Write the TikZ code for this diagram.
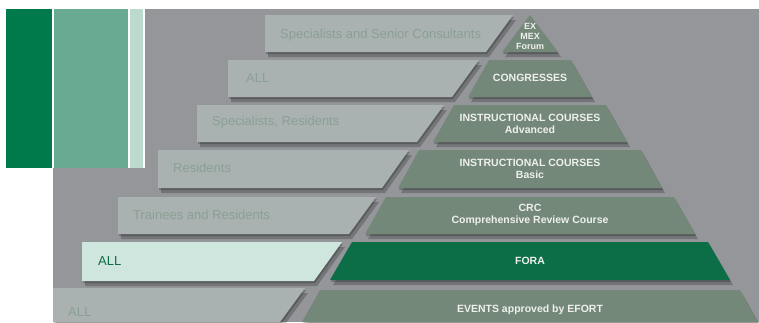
\documentclass[tikz,border=0pt]{standalone}
\usepackage{fontspec}
\setmainfont{Liberation Sans}
\definecolor{bggray}{RGB}{149,150,154}
\definecolor{dkgreen}{RGB}{0,122,75}
\definecolor{mdgreen}{RGB}{104,170,146}
\definecolor{ltgreen}{RGB}{188,218,206}
\definecolor{boxgray}{RGB}{169,178,177}
\definecolor{boxtext}{RGB}{138,160,148}
\definecolor{ltbox}{RGB}{207,230,223}
\definecolor{foratxt}{RGB}{15,107,69}
\definecolor{lvlgreen}{RGB}{116,136,122}
\definecolor{fora}{RGB}{11,110,70}
\definecolor{lvltext}{RGB}{238,240,236}
\begin{document}
\begin{tikzpicture}[x=1pt,y=-1pt]
    \tikzset{% This is the style settings for shapes and labels
    shd/.style={preaction={fill=black,opacity=0.22,transform canvas={xshift=1pt,yshift=-2pt}},
                preaction={fill=black,opacity=0.22,transform canvas={xshift=3pt,yshift=-5pt}}},
    grp/.style={shd,fill=boxgray},
    lvl/.style={shd,fill=lvlgreen},
    grptxt/.style={anchor=base west,inner sep=0pt,text=boxtext,font=\fontsize{13}{15}\selectfont},
    lvltxt/.style={align=center,inner sep=0pt,text=lvltext,font=\bfseries\fontsize{10.5}{12}\selectfont},
    }
    \useasboundingbox (0,0) rectangle (759,322);

    % Background
    \fill[bggray] (145,9) rectangle (759,322);
    \fill[bggray] (53,168) rectangle (145,322);
    \fill[dkgreen] (6,9) rectangle (52,168);
    \fill[mdgreen] (54,9) rectangle (128,168);
    \fill[ltgreen] (130,9) rectangle (143,168);

    % Boxes
    \fill[grp] (265,15) -- (513,15) -- (486,52) -- (265,52) -- cycle;
    \fill[grp] (228,60) -- (479,60) -- (452,97) -- (228,97) -- cycle;
    \fill[grp] (197,105) -- (444,105) -- (417,142) -- (197,142) -- cycle;
    \fill[grp] (158,150) -- (409,150) -- (382,188) -- (158,188) -- cycle;
    \fill[grp] (118,197) -- (376,197) -- (349,234) -- (118,234) -- cycle;
    \fill[grp,fill=ltbox] (82,242) -- (342,242) -- (314,281) -- (82,281) -- cycle;
    \fill[grp] (53,288) -- (305,288) -- (280,322) -- (53,322) -- cycle;

    % Levels
    \fill[lvl] (530,15) -- (558,52) -- (502,52) -- cycle;
    \fill[lvl] (489,60) -- (571,60) -- (592,97) -- (468,97) -- cycle;
    \fill[lvl] (454,105) -- (606,105) -- (627,142) -- (433,142) -- cycle;
    \fill[lvl] (419,150) -- (641,150) -- (662,188) -- (398,188) -- cycle;
    \fill[lvl] (386,197) -- (674,197) -- (695,234) -- (365,234) -- cycle;
    \fill[lvl,fill=fora] (352,242) -- (708,242) -- (730,280) -- (330,280) -- cycle;
    \fill[lvl] (320,290) -- (740,290) -- (758,322) -- (302,322) -- cycle;

    % Labels
    \node[grptxt] (g1) at (280,38) {Specialists and Senior Consultants};
    \node[grptxt] (g2) at (246,82) {ALL};
    \node[grptxt] (g3) at (212,125) {Specialists, Residents};
    \node[grptxt] (g4) at (173,172) {Residents};
    \node[grptxt] (g5) at (133,219) {Trainees and Residents};
    \node[grptxt,text=foratxt] (g6) at (98,265) {ALL};
    \node[grptxt] (g7) at (68,316) {ALL};

    \node[lvltxt,font=\bfseries\fontsize{9}{10}\selectfont] (l1) at (530,36) {EX\\MEX\\Forum};
    \node[lvltxt] (l2) at (530,78) {CONGRESSES};
    \node[lvltxt] (l3) at (530,124) {INSTRUCTIONAL COURSES\\Advanced};
    \node[lvltxt] (l4) at (530,169) {INSTRUCTIONAL COURSES\\Basic};
    \node[lvltxt] (l5) at (530,215) {CRC\\Comprehensive Review Course};
    \node[lvltxt] (l6) at (530,261) {FORA};
    \node[lvltxt] (l7) at (530,310) {EVENTS approved by EFORT};
\end{tikzpicture}
\end{document}
